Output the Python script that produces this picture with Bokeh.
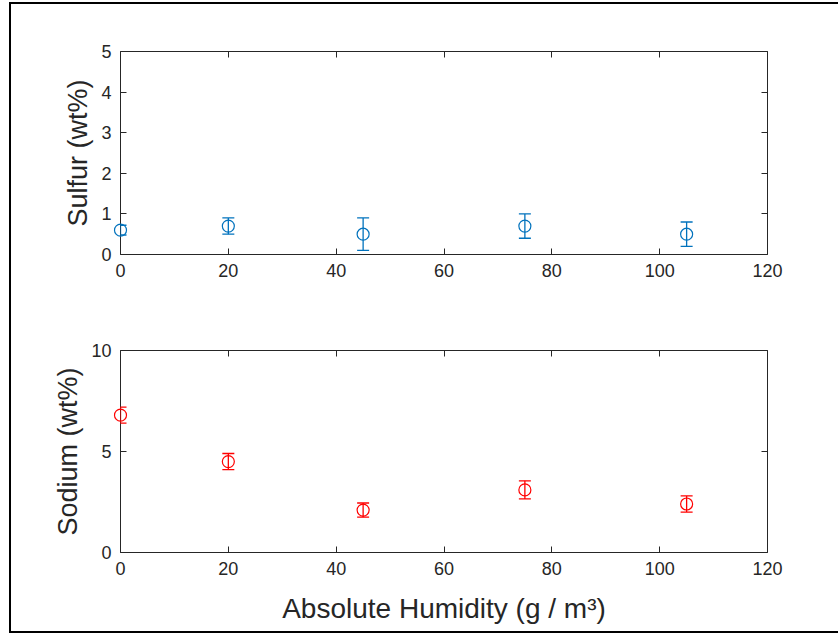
from bokeh.plotting import figure
from bokeh.models import Range1d, LinearAxis, FixedTicker, Whisker, ColumnDataSource, TeeHead
from bokeh.layouts import column
from bokeh.embed import file_html
from bokeh.resources import INLINE

# ---- data ----
humidity = [0, 20, 45, 75, 105]
sulfur = [0.6, 0.7, 0.5, 0.7, 0.5]
sulfur_err = [0.12, 0.2, 0.4, 0.3, 0.3]
sodium = [6.8, 4.5, 2.1, 3.1, 2.4]
sodium_err = [0.4, 0.4, 0.35, 0.45, 0.4]
x_ticks = [0, 20, 40, 60, 80, 100, 120]
sulfur_ticks = [0, 1, 2, 3, 4, 5]
sodium_ticks = [0, 5, 10]

AX = "#262626"
FONT = "Liberation Sans"
FIG_W = 845


def style_axis(ax, ticks, show_labels=True):
    ax.ticker = FixedTicker(ticks=ticks)
    ax.axis_line_color = AX
    ax.axis_line_width = 1
    ax.major_tick_line_color = AX
    ax.major_tick_in = 6
    ax.major_tick_out = 0
    ax.minor_tick_line_color = None
    ax.major_label_text_font = FONT
    ax.major_label_text_font_size = "18px"
    if show_labels:
        ax.major_label_text_color = AX
        ax.major_label_standoff = 9
    else:
        ax.major_label_text_color = None
        ax.major_label_standoff = 0
    ax.axis_label_text_font = FONT
    ax.axis_label_text_font_style = "normal"
    ax.axis_label_text_color = AX


def make_panel(yvals, yerr, color, ymax, yticks, ylabel, xlabel, height, mtop, mbottom):
    p = figure(width=FIG_W, height=height, output_backend="svg", toolbar_location=None,
               x_range=Range1d(0, 120), y_range=Range1d(0, ymax),
               min_border_left=109, min_border_right=FIG_W - 109 - 647,
               min_border_top=mtop, min_border_bottom=mbottom)
    p.xgrid.visible = False
    p.ygrid.visible = False
    p.outline_line_color = None
    p.background_fill_color = "white"
    p.border_fill_color = "white"

    style_axis(p.xaxis[0], x_ticks)
    style_axis(p.yaxis[0], yticks)
    p.yaxis[0].axis_label = ylabel
    p.yaxis[0].axis_label_standoff = 5
    p.yaxis[0].axis_label_text_font_size = "27px"
    if xlabel:
        p.xaxis[0].axis_label = xlabel
        p.xaxis[0].axis_label_standoff = 15
        p.xaxis[0].axis_label_text_font_size = "28px"

    top = LinearAxis()
    style_axis(top, x_ticks, show_labels=False)
    p.add_layout(top, "above")
    right = LinearAxis()
    style_axis(right, yticks, show_labels=False)
    p.add_layout(right, "right")

    lower = [v - e for v, e in zip(yvals, yerr)]
    upper = [v + e for v, e in zip(yvals, yerr)]
    src = ColumnDataSource(data=dict(x=humidity, y=yvals, lower=lower, upper=upper))
    w = Whisker(base="x", lower="lower", upper="upper", source=src,
                line_color=color, line_width=1.3,
                upper_head=TeeHead(size=12, line_color=color, line_width=1.3),
                lower_head=TeeHead(size=12, line_color=color, line_width=1.3),
                level="overlay")
    p.add_layout(w)
    r = p.scatter("x", "y", source=src, marker="circle", size=12,
                  fill_color=None, line_color=color, line_width=1.2)
    r.level = "overlay"
    return p


p1 = make_panel(sulfur, sulfur_err, "#0072BD", 5, sulfur_ticks, "Sulfur (wt%)", None,
                height=296, mtop=47, mbottom=46)
p2 = make_panel(sodium, sodium_err, "#FF0000", 10, sodium_ticks, "Sodium (wt%)",
                "Absolute Humidity (g / m³)", height=331, mtop=50, mbottom=79)

layout = column(p1, p2, spacing=0,
                styles={"border-left": "2px solid black", "border-top": "2px solid black",
                        "border-bottom": "2px solid black", "margin-top": "2px",
                        "margin-left": "9px", "margin-bottom": "-16px",
                        "margin-right": "-40px", "background-color": "white"})

open("out.html", "w").write(file_html(layout, INLINE))
